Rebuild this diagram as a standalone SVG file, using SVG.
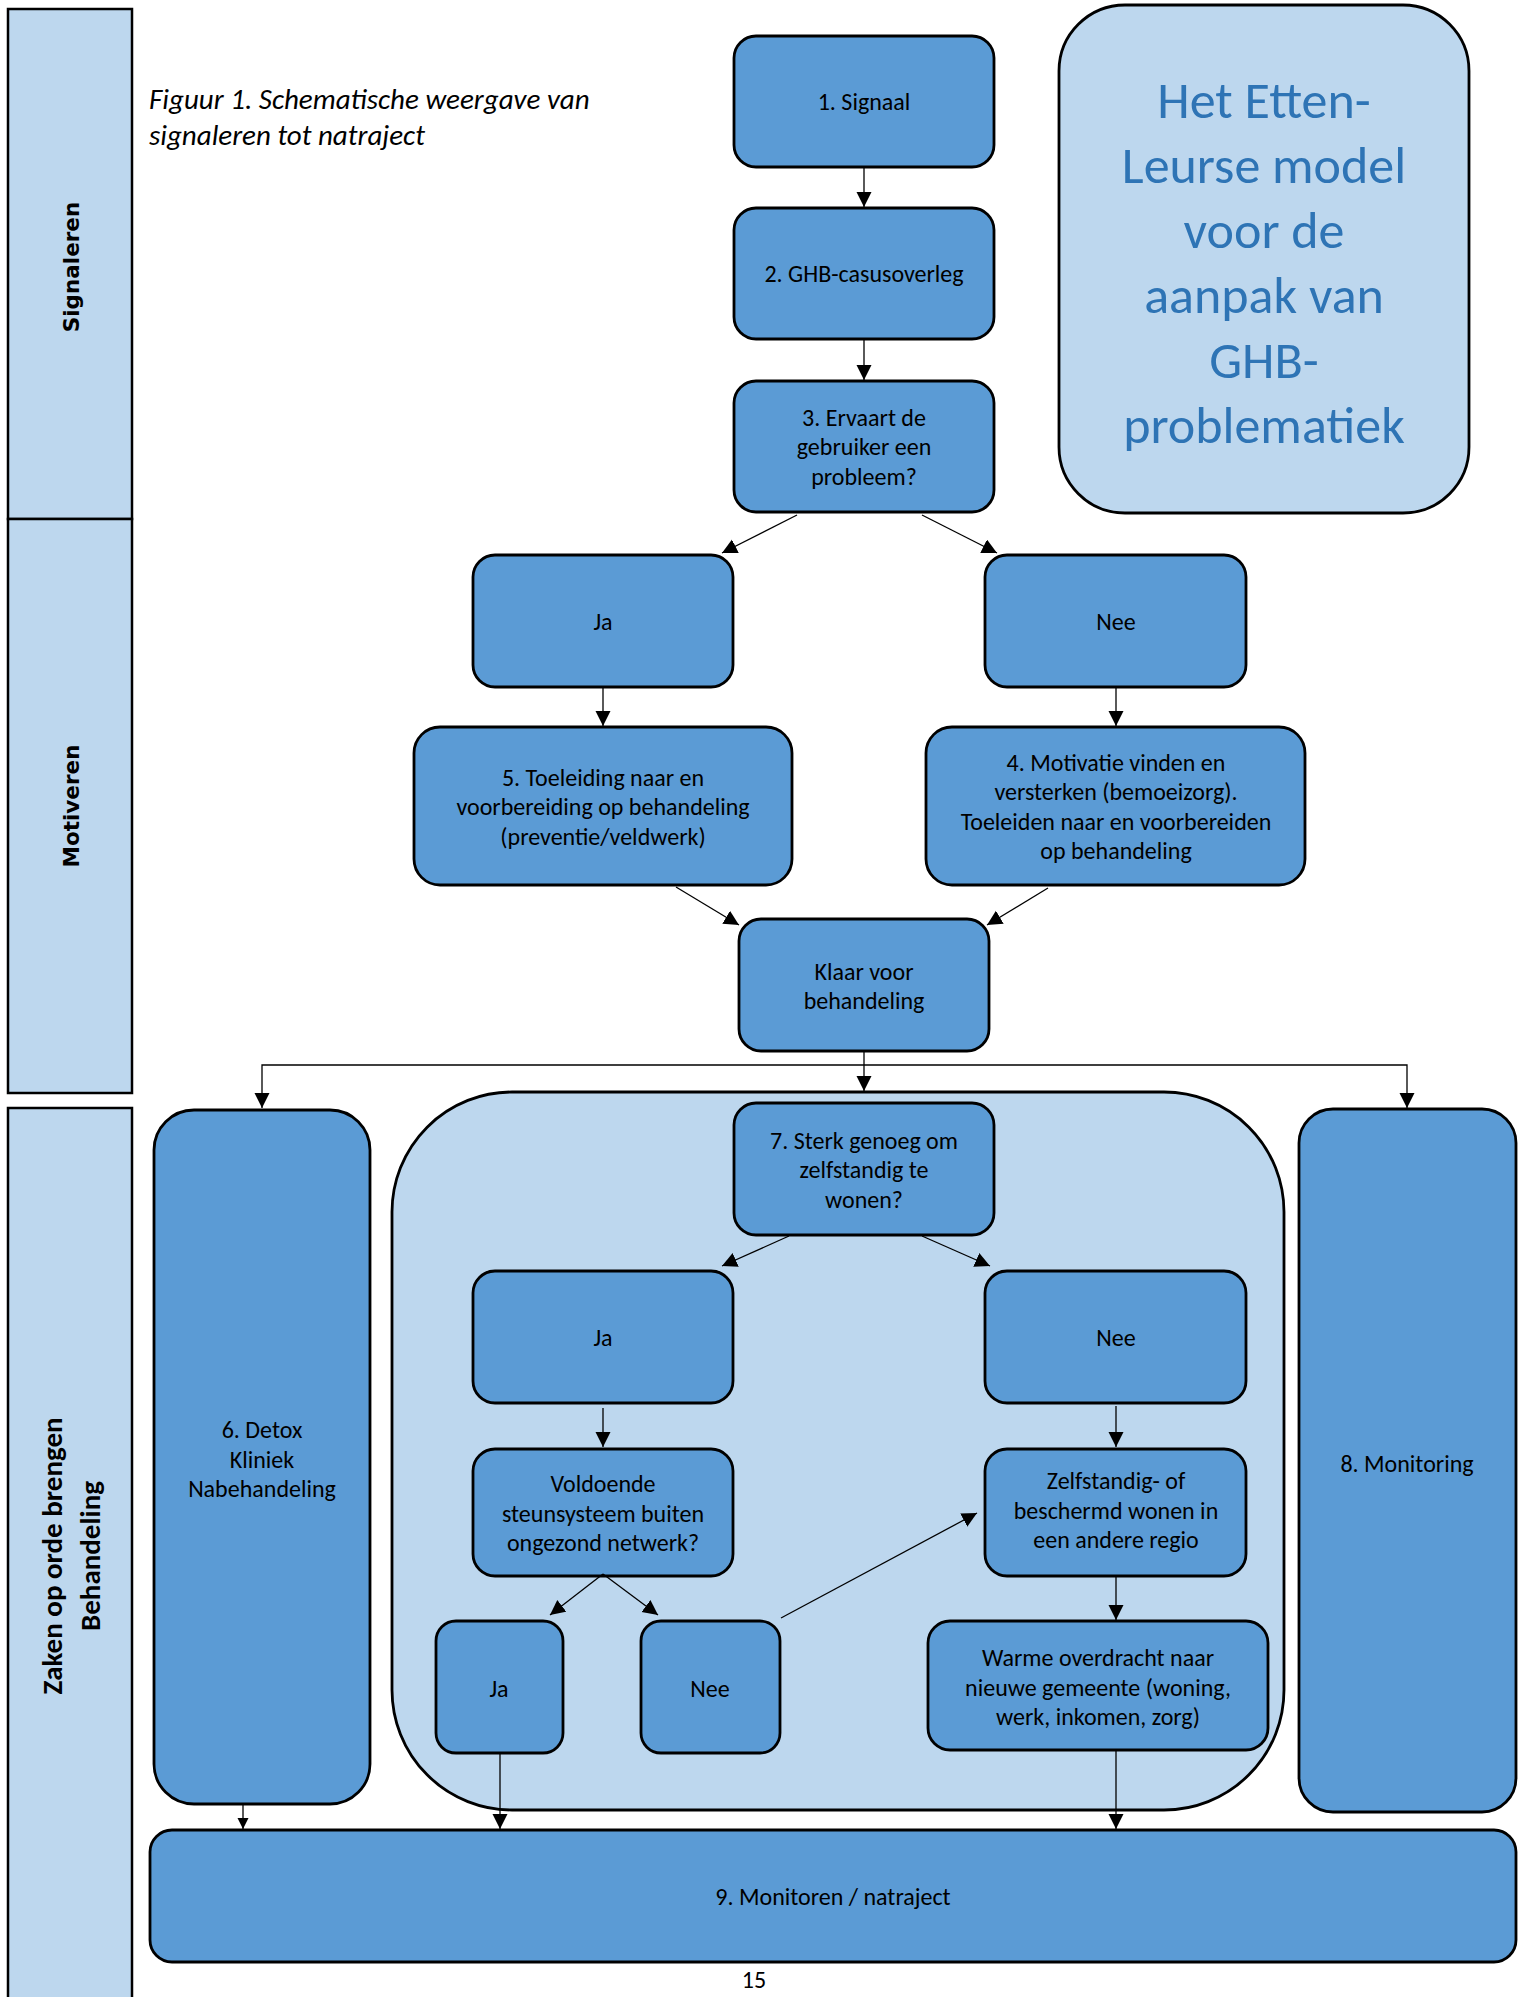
<svg xmlns="http://www.w3.org/2000/svg" width="1520" height="1997" viewBox="0 0 1520 1997">
<style>
  .lane { fill: #BDD7EE; stroke: #000; stroke-width: 2.5; }
  .node { fill: #5B9BD5; stroke: #000; stroke-width: 2.8; }
  .light { fill: #BDD7EE; stroke: #000; stroke-width: 2.8; }
  .t { font-family: Carlito, Lato, "Liberation Sans", sans-serif; font-size: 24px; fill: #000; text-anchor: middle; }
  .lanet { font-family: "DejaVu Sans", sans-serif; font-weight: bold; font-size: 21.5px; fill: #000; text-anchor: middle; }
  .lanet2 { font-family: Carlito, Lato, "Liberation Sans", sans-serif; font-weight: bold; font-size: 29px; fill: #000; text-anchor: middle; }
  .title { font-family: Carlito, Lato, "Liberation Sans", sans-serif; font-weight: 300; font-size: 52px; fill: #2E74B5; text-anchor: middle; }
  .cap { font-family: Carlito, Lato, "Liberation Sans", sans-serif; font-style: italic; font-size: 29px; fill: #000; }
  .conn { fill: none; stroke: #000; stroke-width: 1.3; }
</style>
<defs>
  <marker id="ah" markerUnits="userSpaceOnUse" markerWidth="16" markerHeight="16" refX="15" refY="7.5" orient="auto">
    <path d="M0,0 L15,7.5 L0,15 z" fill="#000"/>
  </marker>
  <marker id="ahs" markerUnits="userSpaceOnUse" markerWidth="12" markerHeight="12" refX="11" refY="5.5" orient="auto">
    <path d="M0,0 L11,5.5 L0,11 z" fill="#000"/>
  </marker>
</defs>

<g id="lane-signaleren">
  <rect class="lane" x="8" y="9" width="124" height="510"/>
  <text class="lanet" transform="translate(79,267) rotate(-90)">Signaleren</text>
</g>
<g id="lane-motiveren">
  <rect class="lane" x="8" y="519" width="124" height="574"/>
  <text class="lanet" transform="translate(79,806) rotate(-90)">Motiveren</text>
</g>
<g id="lane-behandeling">
  <rect class="lane" x="8" y="1108" width="124" height="905"/>
  <text class="lanet2" transform="translate(62,1556) rotate(-90)">Zaken op orde brengen</text>
  <text class="lanet2" transform="translate(100,1556) rotate(-90)">Behandeling</text>
</g>

<g id="caption">
  <text class="cap" x="149" y="109">Figuur 1. Schematische weergave van</text>
  <text class="cap" x="149" y="145">signaleren tot natraject</text>
</g>

<g id="title">
  <rect class="light" x="1059" y="5" width="410" height="508" rx="66" ry="66"/>
  <text class="title" x="1264" y="118">Het Etten-</text>
  <text class="title" x="1264" y="183">Leurse model</text>
  <text class="title" x="1264" y="248">voor de</text>
  <text class="title" x="1264" y="313">aanpak van</text>
  <text class="title" x="1264" y="378">GHB-</text>
  <text class="title" x="1264" y="443">problematiek</text>
</g>

<g id="container">
  <rect class="light" x="392" y="1092" width="892" height="718" rx="120" ry="120"/>
</g>

<g id="n1">
  <rect class="node" x="734" y="36" width="260" height="131" rx="22"/>
  <text class="t" x="864" y="110">1. Signaal</text>
</g>
<g id="n2">
  <rect class="node" x="734" y="208" width="260" height="131" rx="22"/>
  <text class="t" x="864" y="282">2. GHB-casusoverleg</text>
</g>
<g id="n3">
  <rect class="node" x="734" y="381" width="260" height="131" rx="22"/>
  <text class="t" x="864" y="426">3. Ervaart de</text>
  <text class="t" x="864" y="455">gebruiker een</text>
  <text class="t" x="864" y="485">probleem?</text>
</g>
<g id="ja1">
  <rect class="node" x="473" y="555" width="260" height="132" rx="22"/>
  <text class="t" x="603" y="630">Ja</text>
</g>
<g id="nee1">
  <rect class="node" x="985" y="555" width="261" height="132" rx="22"/>
  <text class="t" x="1116" y="630">Nee</text>
</g>
<g id="n5">
  <rect class="node" x="414" y="727" width="378" height="158" rx="26"/>
  <text class="t" x="603" y="786">5. Toeleiding naar en</text>
  <text class="t" x="603" y="815">voorbereiding op behandeling</text>
  <text class="t" x="603" y="845">(preventie/veldwerk)</text>
</g>
<g id="n4">
  <rect class="node" x="926" y="727" width="379" height="158" rx="26"/>
  <text class="t" x="1116" y="771">4. Motivatie vinden en</text>
  <text class="t" x="1116" y="800">versterken (bemoeizorg).</text>
  <text class="t" x="1116" y="830">Toeleiden naar en voorbereiden</text>
  <text class="t" x="1116" y="859">op behandeling</text>
</g>
<g id="klaar">
  <rect class="node" x="739" y="919" width="250" height="132" rx="22"/>
  <text class="t" x="864" y="980">Klaar voor</text>
  <text class="t" x="864" y="1009">behandeling</text>
</g>
<g id="n6">
  <rect class="node" x="154" y="1110" width="216" height="694" rx="40"/>
  <text class="t" x="262" y="1438">6. Detox</text>
  <text class="t" x="262" y="1468">Kliniek</text>
  <text class="t" x="262" y="1497">Nabehandeling</text>
</g>
<g id="n7">
  <rect class="node" x="734" y="1103" width="260" height="132" rx="22"/>
  <text class="t" x="864" y="1149">7. Sterk genoeg om</text>
  <text class="t" x="864" y="1178">zelfstandig te</text>
  <text class="t" x="864" y="1208">wonen?</text>
</g>
<g id="ja2">
  <rect class="node" x="473" y="1271" width="260" height="132" rx="22"/>
  <text class="t" x="603" y="1346">Ja</text>
</g>
<g id="nee2">
  <rect class="node" x="985" y="1271" width="261" height="132" rx="22"/>
  <text class="t" x="1116" y="1346">Nee</text>
</g>
<g id="voldoende">
  <rect class="node" x="473" y="1449" width="260" height="127" rx="22"/>
  <text class="t" x="603" y="1492">Voldoende</text>
  <text class="t" x="603" y="1522">steunsysteem buiten</text>
  <text class="t" x="603" y="1551">ongezond netwerk?</text>
</g>
<g id="zelfstandig">
  <rect class="node" x="985" y="1449" width="261" height="127" rx="22"/>
  <text class="t" x="1116" y="1489">Zelfstandig- of</text>
  <text class="t" x="1116" y="1519">beschermd wonen in</text>
  <text class="t" x="1116" y="1548">een andere regio</text>
</g>
<g id="ja3">
  <rect class="node" x="436" y="1621" width="127" height="132" rx="20"/>
  <text class="t" x="499" y="1697">Ja</text>
</g>
<g id="nee3">
  <rect class="node" x="641" y="1621" width="139" height="132" rx="20"/>
  <text class="t" x="710" y="1697">Nee</text>
</g>
<g id="warme">
  <rect class="node" x="928" y="1621" width="340" height="129" rx="22"/>
  <text class="t" x="1098" y="1666">Warme overdracht naar</text>
  <text class="t" x="1098" y="1696">nieuwe gemeente (woning,</text>
  <text class="t" x="1098" y="1725">werk, inkomen, zorg)</text>
</g>
<g id="n8">
  <rect class="node" x="1299" y="1109" width="217" height="703" rx="34"/>
  <text class="t" x="1407" y="1472">8. Monitoring</text>
</g>
<g id="n9">
  <rect class="node" x="150" y="1830" width="1366" height="132" rx="22"/>
  <text class="t" x="833" y="1905">9. Monitoren / natraject</text>
</g>

<g id="connectors">
  <line class="conn" x1="864" y1="167" x2="864" y2="207" marker-end="url(#ah)"/>
  <line class="conn" x1="864" y1="339" x2="864" y2="380" marker-end="url(#ah)"/>
  <line class="conn" x1="797" y1="515" x2="722" y2="553" marker-end="url(#ah)"/>
  <line class="conn" x1="922" y1="515" x2="997" y2="553" marker-end="url(#ah)"/>
  <line class="conn" x1="603" y1="687" x2="603" y2="726" marker-end="url(#ah)"/>
  <line class="conn" x1="1116" y1="687" x2="1116" y2="726" marker-end="url(#ah)"/>
  <line class="conn" x1="676" y1="887" x2="739" y2="925" marker-end="url(#ah)"/>
  <line class="conn" x1="1048" y1="888" x2="987" y2="925" marker-end="url(#ah)"/>
  <line class="conn" x1="864" y1="1051" x2="864" y2="1091" marker-end="url(#ah)"/>
  <path class="conn" d="M864,1065 H262 V1108" marker-end="url(#ah)"/>
  <path class="conn" d="M864,1065 H1407 V1108" marker-end="url(#ah)"/>
  <line class="conn" x1="789" y1="1236" x2="722" y2="1266" marker-end="url(#ah)"/>
  <line class="conn" x1="922" y1="1236" x2="990" y2="1266" marker-end="url(#ah)"/>
  <line class="conn" x1="603" y1="1408" x2="603" y2="1447" marker-end="url(#ah)"/>
  <line class="conn" x1="1116" y1="1406" x2="1116" y2="1447" marker-end="url(#ah)"/>
  <line class="conn" x1="603" y1="1574" x2="550" y2="1615" marker-end="url(#ah)"/>
  <line class="conn" x1="603" y1="1574" x2="658" y2="1615" marker-end="url(#ah)"/>
  <line class="conn" x1="781" y1="1618" x2="977" y2="1513" marker-end="url(#ah)"/>
  <line class="conn" x1="1116" y1="1576" x2="1116" y2="1620" marker-end="url(#ah)"/>
  <line class="conn" x1="243" y1="1804" x2="243" y2="1829" marker-end="url(#ahs)"/>
  <line class="conn" x1="500" y1="1753" x2="500" y2="1829" marker-end="url(#ah)"/>
  <line class="conn" x1="1116" y1="1750" x2="1116" y2="1829" marker-end="url(#ah)"/>
</g>

<g id="page-number">
  <text class="t" x="754" y="1988">15</text>
</g>
</svg>
